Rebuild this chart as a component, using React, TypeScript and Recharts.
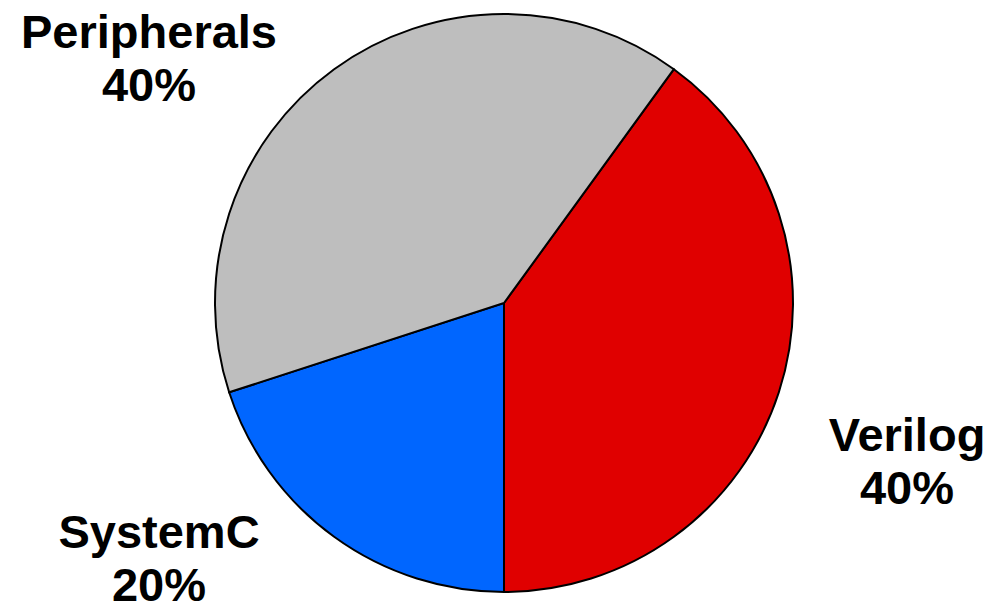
import { PieChart, Pie, Cell } from "recharts";

const categories = ["Verilog", "SystemC", "Peripherals"];
const shares = [40, 20, 40];
const colors = ["#E00000", "#0066FF", "#BEBEBE"];

// label placement (text anchor centre + baseline of first line)
const labelLayout: Record<string, { x: number; y: number }> = {
  Verilog: { x: 907, y: 451 },
  SystemC: { x: 159, y: 548 },
  Peripherals: { x: 149, y: 48 },
};

const data = categories.map((name, i) => ({ name, value: shares[i] }));

const renderLabel = ({ name, percent }: any) => {
  const pos = labelLayout[name];
  if (!pos) return null;
  return (
    <text
      x={pos.x}
      y={pos.y}
      textAnchor="middle"
      fill="#000"
      style={{ fontFamily: "'Liberation Sans', Arial, sans-serif", fontWeight: 700, fontSize: 47 }}
    >
      <tspan x={pos.x}>{name}</tspan>
      <tspan x={pos.x} dy={53}>{`${Math.round(percent * 100)}%`}</tspan>
    </text>
  );
};

export default function App() {
  return (
    <div style={{ position: "absolute", left: 0, top: 0, width: 991, height: 611, background: "#fff" }}>
      <PieChart width={991} height={611} margin={{ top: 0, right: 0, bottom: 0, left: 0 }}>
        <Pie
          data={data}
          dataKey="value"
          nameKey="name"
          cx={504}
          cy={303}
          outerRadius={289}
          startAngle={54}
          endAngle={-306}
          stroke="#000"
          strokeWidth={2}
          label={renderLabel}
          labelLine={false}
          isAnimationActive={false}
        >
          {data.map((d, i) => (
            <Cell key={d.name} fill={colors[i]} />
          ))}
        </Pie>
      </PieChart>
    </div>
  );
}
